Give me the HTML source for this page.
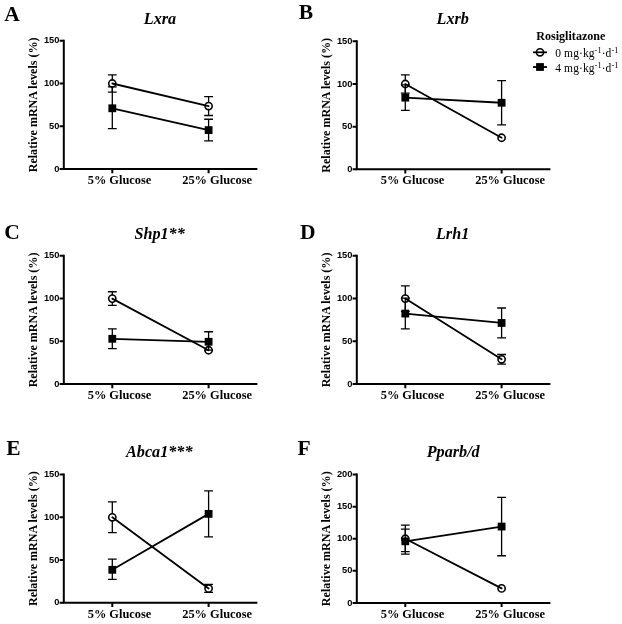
<!DOCTYPE html>
<html><head><meta charset="utf-8"><title>Figure</title>
<style>html,body{margin:0;padding:0;background:#fff}svg{display:block}text{fill:#000}.tk{font-family:"Liberation Sans",sans-serif;font-weight:bold;font-size:9.3px}.xl{font-family:"Liberation Serif",serif;font-weight:bold;font-size:12.4px}.yl{font-family:"Liberation Serif",serif;font-weight:bold;font-size:12px}.ti{font-family:"Liberation Serif",serif;font-weight:bold;font-style:italic;font-size:16.2px}.pl{font-family:"Liberation Serif",serif;font-weight:bold;font-size:21.5px}.lh{font-family:"Liberation Serif",serif;font-weight:bold;font-size:12px}.lt{font-family:"Liberation Serif",serif;font-size:11.5px}</style></head><body>
<svg width="622" height="624" viewBox="0 0 622 624">
<rect width="622" height="624" fill="#fff"/>
<g>
<text class="pl" x="4.3" y="20.5">A</text>
<text class="ti" x="160" y="23.5" text-anchor="middle">Lxra</text>
<text class="yl" transform="translate(37.3,104.88) rotate(-90)" text-anchor="middle" textLength="134.8" lengthAdjust="spacingAndGlyphs">Relative mRNA levels (%)</text>
<path d="M63.8 39.75V169H257.4" fill="none" stroke="#000" stroke-width="2.0" stroke-linejoin="miter"/>
<text class="tk" x="59.4" y="171.6" text-anchor="end">0</text>
<text class="tk" x="59.4" y="128.85" text-anchor="end">50</text>
<text class="tk" x="59.4" y="86.1" text-anchor="end">100</text>
<text class="tk" x="59.4" y="43.35" text-anchor="end">150</text>
<path d="M59.6 169H63.8M59.6 126.25H63.8M59.6 83.5H63.8M59.6 40.75H63.8M112.3 169V173.2M208.6 169V173.2" fill="none" stroke="#000" stroke-width="2.0"/>
<text class="xl" x="87.7" y="184">5% Glucose</text>
<text class="xl" x="182.2" y="184">25% Glucose</text>
<path d="M112.3 74.95V92.05M107.9 74.95H116.7M107.9 92.05H116.7M208.6 96.67V115.48M204.2 96.67H213M204.2 115.48H213" fill="none" stroke="#000" stroke-width="1.3"/>
<circle cx="112.3" cy="83.5" r="3.6" fill="#fff" stroke="#000" stroke-width="1.6"/>
<circle cx="208.6" cy="106.07" r="3.6" fill="#fff" stroke="#000" stroke-width="1.6"/>
<path d="M112.3 83.5L208.6 106.07" fill="none" stroke="#000" stroke-width="1.8" stroke-linecap="round"/>
<path d="M112.3 86.92V128.56M107.9 86.92H116.7M107.9 128.56H116.7M208.6 119.24V140.96M204.2 119.24H213M204.2 140.96H213" fill="none" stroke="#000" stroke-width="1.3"/>
<rect x="108.4" y="104.39" width="7.8" height="7.8" fill="#000"/>
<rect x="204.7" y="126.2" width="7.8" height="7.8" fill="#000"/>
<path d="M112.3 108.3L208.6 130.1" fill="none" stroke="#000" stroke-width="1.8"/>
</g>
<g>
<text class="pl" x="298.8" y="18.6">B</text>
<text class="ti" x="452.7" y="23.7" text-anchor="middle">Lxrb</text>
<text class="yl" transform="translate(330.3,105.33) rotate(-90)" text-anchor="middle" textLength="134.8" lengthAdjust="spacingAndGlyphs">Relative mRNA levels (%)</text>
<path d="M356.8 40.35V169.3H550.4" fill="none" stroke="#000" stroke-width="2.0" stroke-linejoin="miter"/>
<text class="tk" x="352.4" y="171.9" text-anchor="end">0</text>
<text class="tk" x="352.4" y="129.25" text-anchor="end">50</text>
<text class="tk" x="352.4" y="86.6" text-anchor="end">100</text>
<text class="tk" x="352.4" y="43.95" text-anchor="end">150</text>
<path d="M352.6 169.3H356.8M352.6 126.65H356.8M352.6 84H356.8M352.6 41.35H356.8M405.3 169.3V173.5M501.6 169.3V173.5" fill="none" stroke="#000" stroke-width="2.0"/>
<text class="xl" x="380.7" y="184.3">5% Glucose</text>
<text class="xl" x="475.2" y="184.3">25% Glucose</text>
<path d="M405.3 74.79V93.21M400.9 74.79H409.7M400.9 93.21H409.7" fill="none" stroke="#000" stroke-width="1.3"/>
<circle cx="405.3" cy="84" r="3.6" fill="#fff" stroke="#000" stroke-width="1.6"/>
<circle cx="501.6" cy="137.74" r="3.6" fill="#fff" stroke="#000" stroke-width="1.6"/>
<path d="M405.3 84L501.6 137.74" fill="none" stroke="#000" stroke-width="1.8" stroke-linecap="round"/>
<path d="M405.3 84.85V110.44M400.9 84.85H409.7M400.9 110.44H409.7M501.6 80.59V124.94M497.2 80.59H506M497.2 124.94H506" fill="none" stroke="#000" stroke-width="1.3"/>
<rect x="401.4" y="93.75" width="7.8" height="7.8" fill="#000"/>
<rect x="497.7" y="98.87" width="7.8" height="7.8" fill="#000"/>
<path d="M405.3 97.65L501.6 102.77" fill="none" stroke="#000" stroke-width="1.8"/>
</g>
<g>
<text class="pl" x="4.3" y="239.4">C</text>
<text class="ti" x="159.6" y="238.5" text-anchor="middle">Shp1**</text>
<text class="yl" transform="translate(37.3,319.98) rotate(-90)" text-anchor="middle" textLength="134.8" lengthAdjust="spacingAndGlyphs">Relative mRNA levels (%)</text>
<path d="M63.8 254.85V384.1H257.4" fill="none" stroke="#000" stroke-width="2.0" stroke-linejoin="miter"/>
<text class="tk" x="59.4" y="386.7" text-anchor="end">0</text>
<text class="tk" x="59.4" y="343.95" text-anchor="end">50</text>
<text class="tk" x="59.4" y="301.2" text-anchor="end">100</text>
<text class="tk" x="59.4" y="258.45" text-anchor="end">150</text>
<path d="M59.6 384.1H63.8M59.6 341.35H63.8M59.6 298.6H63.8M59.6 255.85H63.8M112.3 384.1V388.3M208.6 384.1V388.3" fill="none" stroke="#000" stroke-width="2.0"/>
<text class="xl" x="87.7" y="399.1">5% Glucose</text>
<text class="xl" x="182.2" y="399.1">25% Glucose</text>
<path d="M112.3 291.76V305.44M107.9 291.76H116.7M107.9 305.44H116.7" fill="none" stroke="#000" stroke-width="1.3"/>
<circle cx="112.3" cy="298.6" r="3.6" fill="#fff" stroke="#000" stroke-width="1.6"/>
<circle cx="208.6" cy="350.24" r="3.6" fill="#fff" stroke="#000" stroke-width="1.6"/>
<path d="M112.3 298.6L208.6 350.24" fill="none" stroke="#000" stroke-width="1.8" stroke-linecap="round"/>
<path d="M112.3 328.95V348.62M107.9 328.95H116.7M107.9 348.62H116.7M208.6 331.77V350.07M204.2 331.77H213M204.2 350.07H213" fill="none" stroke="#000" stroke-width="1.3"/>
<rect x="108.4" y="334.89" width="7.8" height="7.8" fill="#000"/>
<rect x="204.7" y="337.88" width="7.8" height="7.8" fill="#000"/>
<path d="M112.3 338.79L208.6 341.78" fill="none" stroke="#000" stroke-width="1.8"/>
</g>
<g>
<text class="pl" x="300" y="239.1">D</text>
<text class="ti" x="452.6" y="239.1" text-anchor="middle">Lrh1</text>
<text class="yl" transform="translate(330.3,319.98) rotate(-90)" text-anchor="middle" textLength="134.8" lengthAdjust="spacingAndGlyphs">Relative mRNA levels (%)</text>
<path d="M356.8 254.85V384.1H550.4" fill="none" stroke="#000" stroke-width="2.0" stroke-linejoin="miter"/>
<text class="tk" x="352.4" y="386.7" text-anchor="end">0</text>
<text class="tk" x="352.4" y="343.95" text-anchor="end">50</text>
<text class="tk" x="352.4" y="301.2" text-anchor="end">100</text>
<text class="tk" x="352.4" y="258.45" text-anchor="end">150</text>
<path d="M352.6 384.1H356.8M352.6 341.35H356.8M352.6 298.6H356.8M352.6 255.85H356.8M405.3 384.1V388.3M501.6 384.1V388.3" fill="none" stroke="#000" stroke-width="2.0"/>
<text class="xl" x="380.7" y="399.1">5% Glucose</text>
<text class="xl" x="475.2" y="399.1">25% Glucose</text>
<path d="M405.3 285.78V311.43M400.9 285.78H409.7M400.9 311.43H409.7M501.6 354.52V364.09M497.2 354.52H506M497.2 364.09H506" fill="none" stroke="#000" stroke-width="1.3"/>
<circle cx="405.3" cy="298.6" r="3.6" fill="#fff" stroke="#000" stroke-width="1.6"/>
<circle cx="501.6" cy="359.31" r="3.6" fill="#fff" stroke="#000" stroke-width="1.6"/>
<path d="M405.3 298.6L501.6 359.31" fill="none" stroke="#000" stroke-width="1.8" stroke-linecap="round"/>
<path d="M405.3 298.17V328.95M400.9 298.17H409.7M400.9 328.95H409.7M501.6 308V337.93M497.2 308H506M497.2 337.93H506" fill="none" stroke="#000" stroke-width="1.3"/>
<rect x="401.4" y="309.66" width="7.8" height="7.8" fill="#000"/>
<rect x="497.7" y="319.07" width="7.8" height="7.8" fill="#000"/>
<path d="M405.3 313.56L501.6 322.97" fill="none" stroke="#000" stroke-width="1.8"/>
</g>
<g>
<text class="pl" x="6.3" y="455.1">E</text>
<text class="ti" x="159.3" y="456.6" text-anchor="middle">Abca1***</text>
<text class="yl" transform="translate(37.3,538.67) rotate(-90)" text-anchor="middle" textLength="134.8" lengthAdjust="spacingAndGlyphs">Relative mRNA levels (%)</text>
<path d="M63.8 473.55V602.8H257.4" fill="none" stroke="#000" stroke-width="2.0" stroke-linejoin="miter"/>
<text class="tk" x="59.4" y="605.4" text-anchor="end">0</text>
<text class="tk" x="59.4" y="562.65" text-anchor="end">50</text>
<text class="tk" x="59.4" y="519.9" text-anchor="end">100</text>
<text class="tk" x="59.4" y="477.15" text-anchor="end">150</text>
<path d="M59.6 602.8H63.8M59.6 560.05H63.8M59.6 517.3H63.8M59.6 474.55H63.8M112.3 602.8V607M208.6 602.8V607" fill="none" stroke="#000" stroke-width="2.0"/>
<text class="xl" x="87.7" y="617.8">5% Glucose</text>
<text class="xl" x="182.2" y="617.8">25% Glucose</text>
<path d="M112.3 501.91V532.69M107.9 501.91H116.7M107.9 532.69H116.7M208.6 584.42V592.45M204.2 584.42H213M204.2 592.45H213" fill="none" stroke="#000" stroke-width="1.3"/>
<circle cx="112.3" cy="517.3" r="3.6" fill="#fff" stroke="#000" stroke-width="1.6"/>
<circle cx="208.6" cy="588.44" r="3.6" fill="#fff" stroke="#000" stroke-width="1.6"/>
<path d="M112.3 517.3L208.6 588.44" fill="none" stroke="#000" stroke-width="1.8" stroke-linecap="round"/>
<path d="M112.3 559.19V579.37M107.9 559.19H116.7M107.9 579.37H116.7M208.6 490.79V536.96M204.2 490.79H213M204.2 536.96H213" fill="none" stroke="#000" stroke-width="1.3"/>
<rect x="108.4" y="565.9" width="7.8" height="7.8" fill="#000"/>
<rect x="204.7" y="509.98" width="7.8" height="7.8" fill="#000"/>
<path d="M112.3 569.8L208.6 513.88" fill="none" stroke="#000" stroke-width="1.8"/>
</g>
<g>
<text class="pl" x="297.5" y="454.9">F</text>
<text class="ti" x="453.2" y="456.6" text-anchor="middle">Pparb/d</text>
<text class="yl" transform="translate(330.3,538.75) rotate(-90)" text-anchor="middle" textLength="134.8" lengthAdjust="spacingAndGlyphs">Relative mRNA levels (%)</text>
<path d="M356.8 473.6V602.9H550.4" fill="none" stroke="#000" stroke-width="2.0" stroke-linejoin="miter"/>
<text class="tk" x="352.4" y="605.5" text-anchor="end">0</text>
<text class="tk" x="352.4" y="573.42" text-anchor="end">50</text>
<text class="tk" x="352.4" y="541.35" text-anchor="end">100</text>
<text class="tk" x="352.4" y="509.27" text-anchor="end">150</text>
<text class="tk" x="352.4" y="477.2" text-anchor="end">200</text>
<path d="M352.6 602.9H356.8M352.6 570.82H356.8M352.6 538.75H356.8M352.6 506.67H356.8M352.6 474.6H356.8M405.3 602.9V607.1M501.6 602.9V607.1" fill="none" stroke="#000" stroke-width="2.0"/>
<text class="xl" x="380.7" y="617.9">5% Glucose</text>
<text class="xl" x="475.2" y="617.9">25% Glucose</text>
<path d="M405.3 525.09V551.71M400.9 525.09H409.7M400.9 551.71H409.7" fill="none" stroke="#000" stroke-width="1.3"/>
<circle cx="405.3" cy="538.75" r="3.6" fill="#fff" stroke="#000" stroke-width="1.6"/>
<circle cx="501.6" cy="588.4" r="3.6" fill="#fff" stroke="#000" stroke-width="1.6"/>
<path d="M405.3 538.75L501.6 588.4" fill="none" stroke="#000" stroke-width="1.8" stroke-linecap="round"/>
<path d="M405.3 529.13V554.08M400.9 529.13H409.7M400.9 554.08H409.7M501.6 497.37V555.75M497.2 497.37H506M497.2 555.75H506" fill="none" stroke="#000" stroke-width="1.3"/>
<rect x="401.4" y="537.42" width="7.8" height="7.8" fill="#000"/>
<rect x="497.7" y="522.66" width="7.8" height="7.8" fill="#000"/>
<path d="M405.3 541.32L501.6 526.56" fill="none" stroke="#000" stroke-width="1.8"/>
</g>
<g>
<text class="lh" x="536.2" y="40.0" textLength="69.3" lengthAdjust="spacingAndGlyphs">Rosiglitazone</text>
<circle cx="540" cy="52.3" r="3.6" fill="#fff" stroke="#000" stroke-width="1.6"/>
<path d="M533 52.3H547" stroke="#000" stroke-width="1.8"/>
<path d="M533 67H547" stroke="#000" stroke-width="1.8"/>
<rect x="536.1" y="63.1" width="7.8" height="7.8" fill="#000"/>
<text class="lt" x="555.3" y="57.2" letter-spacing="0.09">0 mg·kg<tspan dy="-4.3" style="font-size:8.3px">-1</tspan><tspan dy="4.3">·d</tspan><tspan dy="-4.3" style="font-size:8.3px">-1</tspan></text>
<text class="lt" x="555.3" y="72.0" letter-spacing="0.09">4 mg·kg<tspan dy="-4.3" style="font-size:8.3px">-1</tspan><tspan dy="4.3">·d</tspan><tspan dy="-4.3" style="font-size:8.3px">-1</tspan></text>
</g>
</svg></body></html>
